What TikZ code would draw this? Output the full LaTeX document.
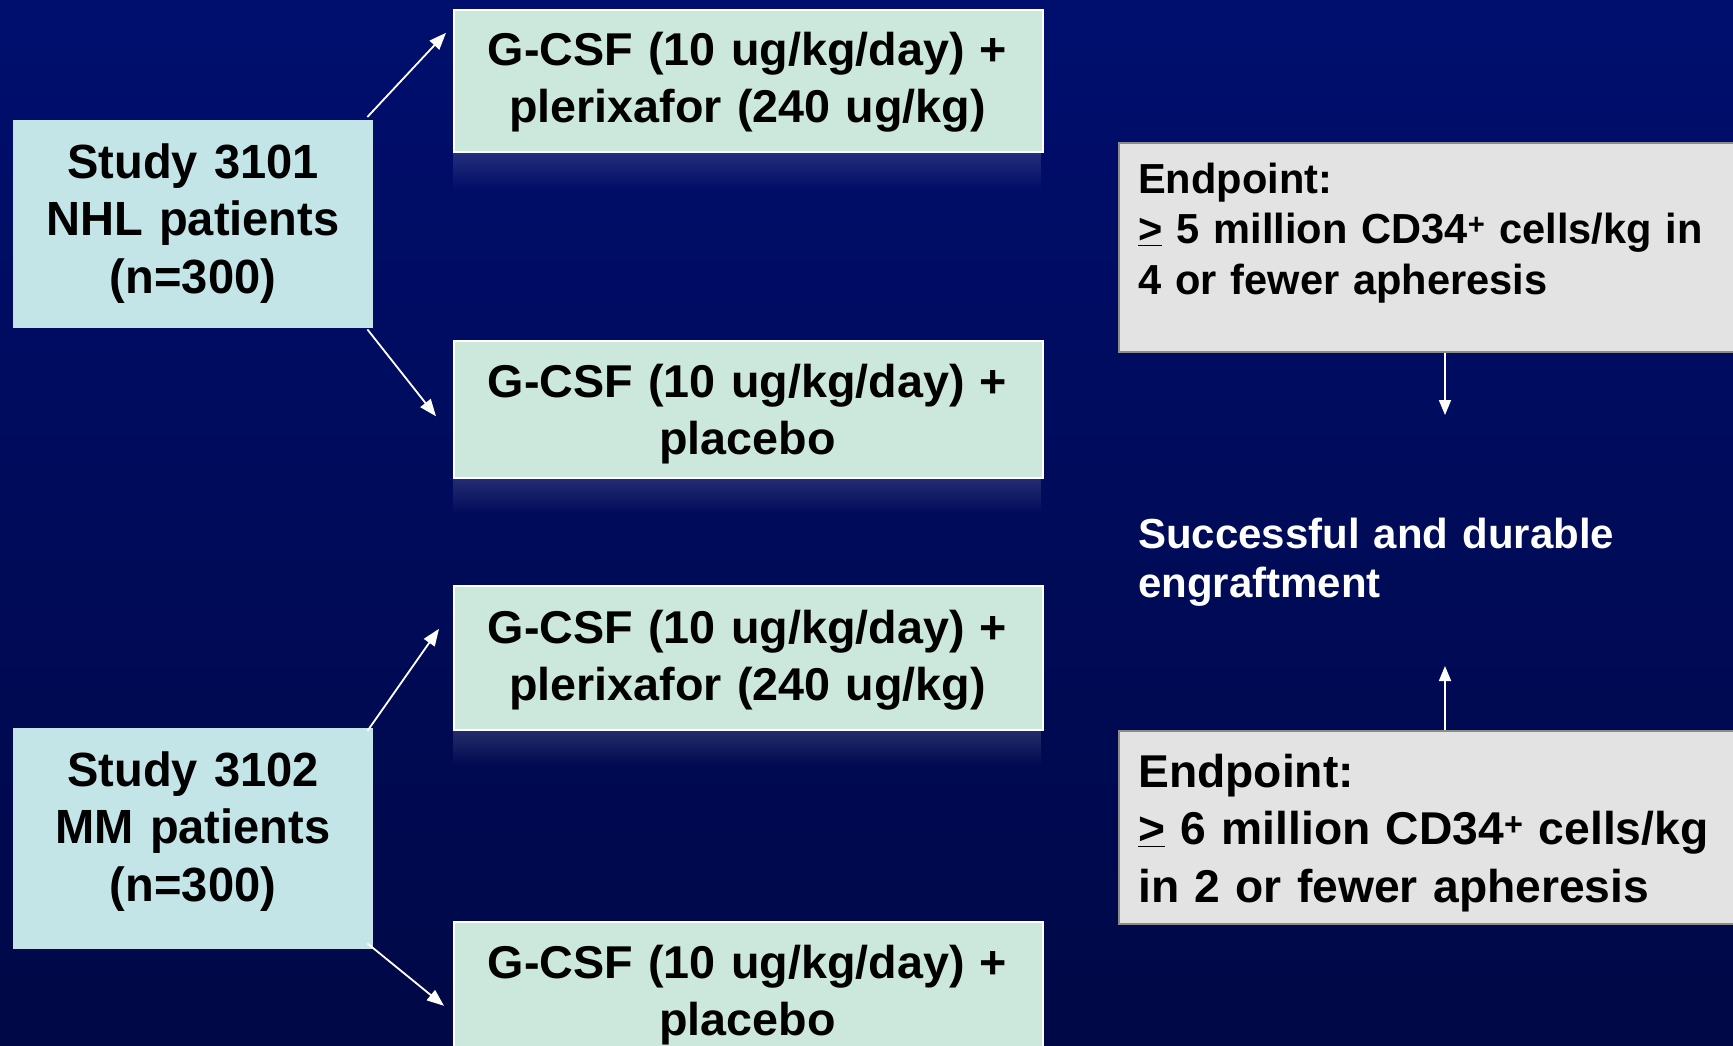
\documentclass[tikz,border=0pt]{standalone}
\usepackage{fontspec}
\setmainfont{Liberation Sans}
\newfontfamily\trtfont[FakeStretch=1.015]{Liberation Sans}
\newfontfamily\epafont[FakeStretch=0.99]{Liberation Sans}
\newfontfamily\epbfont[FakeStretch=1.005]{Liberation Sans}
\newfontfamily\stfont[FakeStretch=0.98]{Liberation Sans}
\usetikzlibrary{arrows.meta,fadings,calc}
\definecolor{bgtop}{RGB}{0,14,110}
\definecolor{bgbot}{RGB}{0,8,70}
\definecolor{trtfill}{RGB}{204,232,220}
\definecolor{stfill}{RGB}{195,229,232}
\definecolor{epfill}{RGB}{227,227,227}
\definecolor{epdraw}{RGB}{140,140,140}
\begin{document}
\begin{tikzpicture}[x=1pt,y=-1pt,
  trtbox/.style={draw=white, line width=1.6pt, fill=trtfill, minimum width=589pt, inner sep=0pt, anchor=north west},
  stbox/.style={fill=stfill, minimum width=360pt, inner sep=0pt, anchor=north west},
  epbox/.style={draw=epdraw, line width=2pt, fill=epfill, minimum width=645pt, inner sep=0pt, anchor=north west},
  trttxt/.style={text width=580pt, align=center, anchor=base, inner sep=0pt, font=\trtfont\bfseries\fontsize{46}{57}\selectfont},
  sttxt/.style={text width=340pt, align=center, anchor=base, inner sep=0pt, font=\stfont\bfseries\fontsize{48}{57.5}\selectfont},
  epatxt/.style={text width=600pt, align=left, anchor=base west, inner sep=0pt, font=\epafont\bfseries\fontsize{42}{50.5}\selectfont},
  epbtxt/.style={text width=600pt, align=left, anchor=base west, inner sep=0pt, font=\epbfont\bfseries\fontsize{46}{57.5}\selectfont},
  succtxt/.style={text width=560pt, align=left, anchor=base west, inner sep=0pt, text=white, font=\bfseries\fontsize{42}{49}\selectfont},
  conn/.style={draw=white, line width=1.8pt, -{Triangle[length=17pt,width=13pt]}},
  conn2/.style={draw=white, line width=1.8pt, -{Triangle[length=15pt,width=12pt]}},
  refl/.style={fill=white, fill opacity=0.14, path fading=south}
]
\useasboundingbox (0,0) rectangle (1733,1045);
\clip (0,0) rectangle (1733,1045);
\shade[top color=bgtop, bottom color=bgbot] (0,0) rectangle (1733,1045);

% reflections
\fill[refl] (453,152) rectangle (1042,190);
\fill[refl] (453,478) rectangle (1042,514);
\fill[refl] (453,730) rectangle (1042,766);

% treatment boxes
\node[trtbox, minimum height=142pt] (t1) at (453,9) {};
\node[trtbox, minimum height=137pt] (t2) at (453,340) {};
\node[trtbox, minimum height=144pt] (t3) at (453,585) {};
\node[trtbox, minimum height=140pt] (t4) at (453,921) {};
\node[trttxt] (t1txt) at (747.5,65) {G-CSF (10 ug/kg/day) +\\plerixafor (240 ug/kg)};
\node[trttxt] (t2txt) at (747.5,397) {G-CSF (10 ug/kg/day) +\\placebo};
\node[trttxt] (t3txt) at (747.5,643) {G-CSF (10 ug/kg/day) +\\plerixafor (240 ug/kg)};
\node[trttxt] (t4txt) at (747.5,978) {G-CSF (10 ug/kg/day) +\\placebo};

% study boxes
\node[stbox, minimum height=208pt] (s1) at (13,120) {};
\node[stbox, minimum height=221pt] (s2) at (13,728) {};
\node[sttxt] (s1txt) at (193,178) {Study 3101\\NHL patients\\(n=300)};
\node[sttxt] (s2txt) at (193,786) {Study 3102\\MM patients\\(n=300)};

% endpoint boxes
\node[epbox, minimum height=209pt] (e1) at (1118,142) {};
\node[epbox, minimum height=193pt] (e2) at (1118,730) {};
\node[epatxt] (e1txt) at (1138,193) {Endpoint:\\\underline{>} 5 million CD34\textsuperscript{+} cells/kg in\\4 or fewer apheresis};
\node[epbtxt] (e2txt) at (1138,787) {Endpoint:\\\underline{>} 6 million CD34\textsuperscript{+} cells/kg\\in 2 or fewer apheresis};

\node[succtxt] (succ) at (1138,548) {Successful and durable\\engraftment};

% connectors
\draw[conn] ([xshift=-6pt,yshift=3pt]s1.north east) -- ([xshift=-7pt,yshift=48pt]t1.west);
\draw[conn] ([xshift=-6pt,yshift=-1pt]s1.south east) -- ([xshift=-17pt,yshift=-7pt]t2.west);
\draw[conn] ([xshift=-6pt,yshift=-3pt]s2.north east) -- ([xshift=-14pt,yshift=29pt]t3.west);
\draw[conn] ([xshift=-6pt,yshift=6pt]s2.south east) -- ([xshift=-9pt,yshift=-14pt]t4.west);

\coordinate (d1) at (1445,415);
\coordinate (u2) at (1445,666);
\draw[conn2] (e1.south -| d1) -- (d1);
\draw[conn2] (e2.north -| u2) -- (u2);
\end{tikzpicture}
\end{document}
